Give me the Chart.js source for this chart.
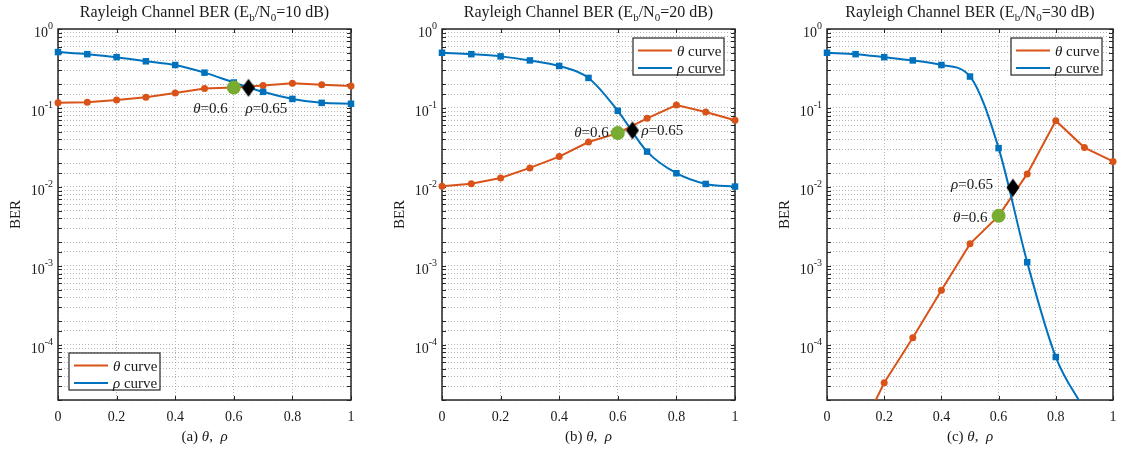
<!DOCTYPE html>
<html>
<head>
<meta charset="utf-8">
<script src="https://cdn.jsdelivr.net/npm/chart.js@4.4.0/dist/chart.umd.min.js"></script>
<style>
  body { margin: 0; background: #fff; width: 1123px; height: 451px; position: relative; overflow: hidden; }
  canvas { position: absolute; top: 0; }
</style>
</head>
<body>
<script>
// data
const xs = [0, 0.1, 0.2, 0.3, 0.4, 0.5, 0.6, 0.7, 0.8, 0.9, 1];
const xTicks = [0, 0.2, 0.4, 0.6, 0.8, 1];
const yDecades = [1e-4, 1e-3, 1e-2, 1e-1, 1];
const yMin = 2e-5, yMax = 1;
const snrDb = ["10", "20", "30"];
const letters = ["a", "b", "c"];

const theta10 = [0.116, 0.118, 0.126, 0.137, 0.155, 0.176, 0.181, 0.193, 0.205, 0.197, 0.19];
const rho10 = [0.51, 0.48, 0.44, 0.39, 0.35, 0.28, 0.21, 0.16, 0.13, 0.116, 0.113];
const theta20 = [0.0102, 0.011, 0.013, 0.0174, 0.0242, 0.037, 0.048, 0.074, 0.109, 0.089, 0.07];
const rho20 = [0.5, 0.48, 0.45, 0.4, 0.34, 0.24, 0.092, 0.028, 0.0149, 0.0109, 0.0101];
const theta30 = [1.2e-6, 6e-6, 3.3e-5, 1.23e-4, 4.9e-4, 1.9e-3, 4.3e-3, 0.0146, 0.069, 0.0315, 0.021];
const rho30 = [0.5, 0.48, 0.44, 0.4, 0.35, 0.25, 0.031, 0.00111, 7e-5, 1.5e-5, 3e-6];

const thetaMarkX = [0.6, 0.6, 0.6];
const thetaMarkBer = [0.181, 0.048, 0.0043];
const rhoMarkX = [0.65, 0.65, 0.65];
const rhoMarkBer = [0.18, 0.052, 0.0098];

const ORANGE = "#D95319";
const BLUE = "#0072BD";
const GREEN = "#77AC30";
const AXIS = "#262626";
const TEXT = "#1a1a1a";
const GRID = "#b4b4b4";
const FONT = '"Liberation Serif", "Times New Roman", serif';

// layout of the three panels (canvas left edge, legend corner, label offsets)
const panels = [
  { left: 0, theta: theta10, rho: rho10, legend: "sw",
    tLab: { dx: -6, dy: 20, align: "right" }, rLab: { dx: -3, dy: 20, align: "left" } },
  { left: 384, theta: theta20, rho: rho20, legend: "ne",
    tLab: { dx: -9, dy: -1, align: "right" }, rLab: { dx: 9, dy: 0, align: "left" } },
  { left: 769, theta: theta30, rho: rho30, legend: "ne",
    tLab: { dx: -11, dy: 1, align: "right" }, rLab: { dx: -20, dy: -4, align: "right" } },
];

// black diamond marker, taller than wide like MATLAB's
const diamond = document.createElement("canvas");
diamond.width = 14; diamond.height = 20;
(() => {
  const c = diamond.getContext("2d");
  c.fillStyle = "#000";
  c.beginPath();
  c.moveTo(7, 1); c.lineTo(13.5, 10); c.lineTo(7, 19); c.lineTo(0.5, 10);
  c.closePath(); c.fill();
})();

// draw a run of text pieces (italic / sub / sup) as one label
function rich(ctx, parts, x, y, align) {
  let w = 0;
  const fonts = parts.map(p => {
    const f = (p.it ? "italic " : "") + p.s + "px " + FONT;
    ctx.font = f;
    const pw = ctx.measureText(p.t).width;
    w += pw;
    return [f, pw];
  });
  let cx = align === "center" ? x - w / 2 : align === "right" ? x - w : x;
  ctx.textAlign = "left";
  ctx.textBaseline = "alphabetic";
  parts.forEach((p, i) => {
    ctx.font = fonts[i][0];
    ctx.fillText(p.t, cx, y + (p.dy || 0));
    cx += fonts[i][1];
  });
}

function makeDecor(k) {
  const p = panels[k];
  return {
    id: "decor",
    beforeDatasetsDraw(chart) {
      const { ctx, chartArea: a, scales: { x, y } } = chart;
      ctx.save();
      ctx.strokeStyle = AXIS;
      ctx.lineWidth = 1;
      ctx.beginPath();
      y.ticks.forEach(t => {
        const py = Math.round(y.getPixelForValue(t.value)) + 0.5;
        ctx.moveTo(a.left, py); ctx.lineTo(a.left + 4, py);
        ctx.moveTo(a.right, py); ctx.lineTo(a.right - 4, py);
      });
      xTicks.forEach(v => {
        const px = Math.round(x.getPixelForValue(v)) + 0.5;
        ctx.moveTo(px, a.bottom); ctx.lineTo(px, a.bottom - 4);
        ctx.moveTo(px, a.top); ctx.lineTo(px, a.top + 4);
      });
      ctx.stroke();
      ctx.lineWidth = 1.5;
      ctx.strokeRect(a.left, a.top, a.right - a.left, a.bottom - a.top);
      ctx.restore();
    },
    afterDraw(chart) {
      const { ctx, chartArea: a, scales: { x, y } } = chart;
      const mid = (a.left + a.right) / 2;
      ctx.save();
      ctx.fillStyle = TEXT;

      // title
      rich(ctx, [
        { t: "Rayleigh Channel BER (E", s: 16 },
        { t: "b", s: 11, dy: 4 },
        { t: "/N", s: 16 },
        { t: "0", s: 11, dy: 4 },
        { t: "=" + snrDb[k] + " dB)", s: 16 },
      ], mid, 17, "center");

      // y tick labels 10^n
      yDecades.forEach(v => {
        if (v < yMin || v > yMax) return;
        const py = y.getPixelForValue(v);
        rich(ctx, [
          { t: "10", s: 14, dy: 8 },
          { t: String(Math.round(Math.log10(v))), s: 10 },
        ], a.left - 5, py, "right");
      });

      // x tick labels
      xTicks.forEach(v => {
        rich(ctx, [{ t: String(v), s: 14 }], x.getPixelForValue(v), 421, "center");
      });

      // y title
      ctx.save();
      ctx.translate(a.left - 43, (a.top + a.bottom) / 2);
      ctx.rotate(-Math.PI / 2);
      rich(ctx, [{ t: "BER", s: 15 }], 0, 5, "center");
      ctx.restore();

      // x title
      rich(ctx, [
        { t: "(" + letters[k] + ") ", s: 15 },
        { t: "θ", s: 15, it: true },
        { t: ",  ", s: 15 },
        { t: "ρ", s: 15, it: true },
      ], mid, 441, "center");

      // marker labels
      const tx = x.getPixelForValue(thetaMarkX[k]), ty = y.getPixelForValue(thetaMarkBer[k]);
      const rx = x.getPixelForValue(rhoMarkX[k]), ry = y.getPixelForValue(rhoMarkBer[k]);
      rich(ctx, [{ t: "θ", s: 15, it: true }, { t: "=" + thetaMarkX[k], s: 15 }],
        tx + p.tLab.dx, ty + p.tLab.dy + 5, p.tLab.align);
      rich(ctx, [{ t: "ρ", s: 15, it: true }, { t: "=" + rhoMarkX[k], s: 15 }],
        rx + p.rLab.dx, ry + p.rLab.dy + 5, p.rLab.align);

      // legend
      const bw = 91, bh = 37;
      const bl = p.legend === "ne" ? a.right - 11 - bw : a.left + 11;
      const bt = p.legend === "ne" ? a.top + 9 : a.bottom - 10 - bh;
      ctx.fillStyle = "#fff";
      ctx.fillRect(bl, bt, bw, bh);
      ctx.strokeStyle = AXIS;
      ctx.lineWidth = 1.2;
      ctx.strokeRect(bl, bt, bw, bh);
      chart.data.datasets.filter(ds => ds.label.endsWith("curve")).forEach((ds, i) => {
        const ly = bt + 12.5 + i * 17.5;
        ctx.strokeStyle = ds.borderColor;
        ctx.lineWidth = 2;
        ctx.beginPath();
        ctx.moveTo(bl + 5, ly); ctx.lineTo(bl + 39, ly);
        ctx.stroke();
        ctx.fillStyle = TEXT;
        rich(ctx, [{ t: ds.label[0], s: 15, it: true }, { t: ds.label.slice(1), s: 15 }], bl + 44, ly + 5, "left");
      });
      ctx.restore();
    }
  };
}

panels.forEach((p, k) => {
  const cv = document.createElement("canvas");
  const W = k === 2 ? 354 : 361;
  cv.width = W; cv.height = 451;
  cv.style.left = p.left + "px";
  cv.style.width = W + "px"; cv.style.height = "451px";
  document.body.appendChild(cv);

  new Chart(cv, {
    type: "line",
    data: {
      datasets: [
        {
          label: "θ curve", order: 2,
          data: xs.map((x, i) => ({ x, y: p.theta[i] })),
          borderColor: ORANGE, backgroundColor: ORANGE,
          borderWidth: 2, pointRadius: 3.5, pointBorderWidth: 0,
          pointStyle: "circle", tension: 0,
          clip: { left: 8, right: 8, top: 8, bottom: 0 },
        },
        {
          label: "ρ curve", order: 1,
          data: xs.map((x, i) => ({ x, y: p.rho[i] })),
          borderColor: BLUE, backgroundColor: BLUE,
          borderWidth: 2, pointRadius: 4.6, pointBorderWidth: 0,
          pointStyle: "rect", cubicInterpolationMode: "monotone",
          clip: { left: 8, right: 8, top: 8, bottom: 0 },
        },
        {
          label: "theta mark", order: 0,
          data: [{ x: thetaMarkX[k], y: thetaMarkBer[k] }],
          showLine: false, pointStyle: "circle", pointRadius: 7,
          backgroundColor: GREEN, pointBorderWidth: 0,
        },
        {
          label: "rho mark", order: 0,
          data: [{ x: rhoMarkX[k], y: rhoMarkBer[k] }],
          showLine: false, pointStyle: diamond, pointRadius: 9,
        },
      ],
    },
    options: {
      responsive: false,
      animation: false,
      events: [],
      layout: { padding: { top: 29, right: W - 58 - 293, left: 0, bottom: 0 } },
      scales: {
        x: {
          type: "linear", min: 0, max: 1,
          ticks: { display: false, stepSize: 0.2, autoSkip: false },
          grid: { color: GRID, drawTicks: false, lineWidth: 1 },
          border: { display: false, dash: [1, 2] },
          afterFit: s => { s.height = 51; },
        },
        y: {
          type: "logarithmic", min: yMin, max: yMax,
          ticks: { display: false, autoSkip: false },
          grid: { color: GRID, drawTicks: false, lineWidth: 1 },
          border: { display: false, dash: [1, 2] },
          afterFit: s => { s.width = 58; },
        },
      },
      plugins: { legend: { display: false }, tooltip: { enabled: false } },
    },
    plugins: [makeDecor(k)],
  });
});
</script>
</body>
</html>
